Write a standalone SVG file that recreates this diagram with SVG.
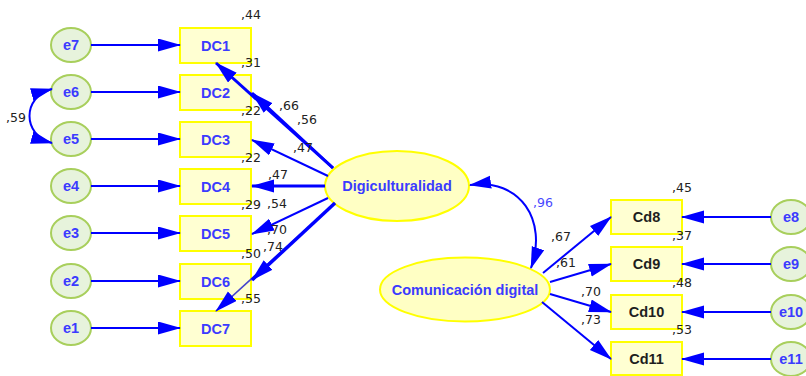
<svg xmlns="http://www.w3.org/2000/svg" width="806" height="376" viewBox="0 0 806 376">
<style>
.obs{fill:#ffffd2;stroke:#ffff00;stroke-width:2}
.lat{fill:#ffffc4;stroke:#ffff00;stroke-width:2}
.err{fill:#e7f3dc;stroke:#a8cf5c;stroke-width:2}
.lbl{font-family:"Liberation Sans",Arial,sans-serif;font-size:14.5px;font-weight:bold;fill:#3b3bff;text-anchor:middle}
.lblk{font-family:"Liberation Sans",Arial,sans-serif;font-size:14.5px;font-weight:bold;fill:#1e1e1e;text-anchor:middle}
.num{font-family:"DejaVu Sans",sans-serif;font-size:12.5px;fill:#222}
.numb{font-family:"DejaVu Sans",sans-serif;font-size:12.5px;fill:#4848ff}
.c{fill:none;stroke:#0000ff;stroke-width:2}
.t{stroke-width:3}
</style>
<defs>
<marker id="ah" markerUnits="userSpaceOnUse" markerWidth="24" markerHeight="14" refX="22" refY="6.5" orient="auto"><path d="M0,0 L23,6.5 L0,13 Z" fill="#0000ff"/></marker>
<marker id="cv" markerUnits="userSpaceOnUse" markerWidth="24" markerHeight="14" refX="21" refY="6.5" orient="auto-start-reverse"><path d="M0,0 L22,6.5 L0,13 Z" fill="#0000ff"/></marker>
</defs>
<g id="e7"><ellipse class="err" cx="71" cy="45" rx="20" ry="17"/><text class="lbl" x="71" y="50">e7</text></g>
<g id="e6"><ellipse class="err" cx="71" cy="92" rx="20" ry="17"/><text class="lbl" x="71" y="97">e6</text></g>
<g id="e5"><ellipse class="err" cx="71" cy="139" rx="20" ry="17"/><text class="lbl" x="71" y="144">e5</text></g>
<g id="e4"><ellipse class="err" cx="71" cy="186" rx="20" ry="17"/><text class="lbl" x="71" y="191">e4</text></g>
<g id="e3"><ellipse class="err" cx="71" cy="233" rx="20" ry="17"/><text class="lbl" x="71" y="238">e3</text></g>
<g id="e2"><ellipse class="err" cx="71" cy="281" rx="20" ry="17"/><text class="lbl" x="71" y="286">e2</text></g>
<g id="e1"><ellipse class="err" cx="71" cy="328" rx="20" ry="17"/><text class="lbl" x="71" y="333">e1</text></g>
<g id="DC1"><rect class="obs" x="180" y="28" width="71" height="35"/><text class="lbl" x="215.5" y="50.5">DC1</text></g>
<g id="DC2"><rect class="obs" x="180" y="75" width="71" height="35"/><text class="lbl" x="215.5" y="97.5">DC2</text></g>
<g id="DC3"><rect class="obs" x="180" y="122" width="71" height="35"/><text class="lbl" x="215.5" y="144.5">DC3</text></g>
<g id="DC4"><rect class="obs" x="180" y="169" width="71" height="35"/><text class="lbl" x="215.5" y="191.5">DC4</text></g>
<g id="DC5"><rect class="obs" x="180" y="216" width="71" height="35"/><text class="lbl" x="215.5" y="238.5">DC5</text></g>
<g id="DC6"><rect class="obs" x="180" y="264" width="71" height="35"/><text class="lbl" x="215.5" y="286.5">DC6</text></g>
<g id="DC7"><rect class="obs" x="180" y="311" width="71" height="35"/><text class="lbl" x="215.5" y="333.5">DC7</text></g>
<g id="Digiculturalidad"><ellipse class="lat" cx="397" cy="186" rx="72" ry="35"/><text class="lbl" x="397" y="191">Digiculturalidad</text></g>
<g id="Comunicacion"><ellipse class="lat" cx="465" cy="289.5" rx="85" ry="32"/><text class="lbl" x="465" y="294.5">Comunicación digital</text></g>
<g id="Cd8"><rect class="obs" x="611" y="200" width="71" height="34"/><text class="lblk" x="646.5" y="222">Cd8</text></g>
<g id="Cd9"><rect class="obs" x="611" y="247" width="71" height="34"/><text class="lblk" x="646.5" y="269">Cd9</text></g>
<g id="Cd10"><rect class="obs" x="611" y="295" width="71" height="34"/><text class="lblk" x="646.5" y="317">Cd10</text></g>
<g id="Cd11"><rect class="obs" x="611" y="342" width="71" height="33"/><text class="lblk" x="646.5" y="364">Cd11</text></g>
<g id="e8"><ellipse class="err" cx="791" cy="217" rx="20" ry="17"/><text class="lbl" x="791" y="222">e8</text></g>
<g id="e9"><ellipse class="err" cx="791" cy="264" rx="20" ry="17"/><text class="lbl" x="791" y="269">e9</text></g>
<g id="e10"><ellipse class="err" cx="791" cy="312" rx="20" ry="17"/><text class="lbl" x="791" y="317">e10</text></g>
<g id="e11"><ellipse class="err" cx="791" cy="359" rx="20" ry="17"/><text class="lbl" x="791" y="364">e11</text></g>
<g id="connectors">
<path class="c" d="M91,45 L180,45" marker-end="url(#ah)"/>
<path class="c" d="M91,92 L180,92" marker-end="url(#ah)"/>
<path class="c" d="M91,139 L180,139" marker-end="url(#ah)"/>
<path class="c" d="M91,186 L180,186" marker-end="url(#ah)"/>
<path class="c" d="M91,233 L180,233" marker-end="url(#ah)"/>
<path class="c" d="M91,281 L180,281" marker-end="url(#ah)"/>
<path class="c" d="M91,328 L180,328" marker-end="url(#ah)"/>
<path class="c t" d="M333,168 L216,63" marker-end="url(#ah)"/>
<path class="c t" d="M333,168 L252,93" marker-end="url(#ah)"/>
<path class="c" d="M328,176 L252,140" marker-end="url(#ah)"/>
<path class="c t" d="M325,186 L252,186" marker-end="url(#ah)"/>
<path class="c" d="M328,198 L252,234" marker-end="url(#ah)"/>
<path class="c" style="stroke:#4444cc;stroke-width:1.6" d="M335,203 L216,311" marker-end="url(#ah)"/>
<path class="c" style="stroke-width:3.5" d="M335,203 L252,280" marker-end="url(#ah)"/>
<path class="c" d="M543,273 L611,217" marker-end="url(#ah)"/>
<path class="c" d="M550,282 L611,264" marker-end="url(#ah)"/>
<path class="c" d="M550,294 L611,312" marker-end="url(#ah)"/>
<path class="c" d="M542,302 L611,359" marker-end="url(#ah)"/>
<path class="c" d="M771,217 L682,217" marker-end="url(#ah)"/>
<path class="c" d="M771,264 L682,264" marker-end="url(#ah)"/>
<path class="c" d="M771,312 L682,312" marker-end="url(#ah)"/>
<path class="c" d="M771,359 L682,359" marker-end="url(#ah)"/>
<path class="c" d="M52,89 C22,97 22,135 52,143" marker-start="url(#cv)" marker-end="url(#cv)"/>
<path class="c" d="M470,185 C520,178 548,220 531,268" marker-start="url(#cv)" marker-end="url(#cv)"/>
</g>
<g id="labels">
<text class="num" x="241" y="19">,44</text>
<text class="num" x="241" y="67">,31</text>
<text class="num" x="241" y="115">,22</text>
<text class="num" x="241" y="162">,22</text>
<text class="num" x="241" y="209">,29</text>
<text class="num" x="241" y="258">,50</text>
<text class="num" x="279" y="110">,66</text>
<text class="num" x="297" y="124">,56</text>
<text class="num" x="293" y="152">,47</text>
<text class="num" x="268" y="179">,47</text>
<text class="num" x="267" y="208">,54</text>
<text class="num" x="267" y="234">,70</text>
<text class="num" x="263" y="251">,74</text>
<text class="num" x="241" y="303">,55</text>
<text class="num" x="6" y="122">,59</text>
<text class="numb" x="533" y="207">,96</text>
<text class="num" x="551" y="241">,67</text>
<text class="num" x="556" y="267">,61</text>
<text class="num" x="581" y="296">,70</text>
<text class="num" x="581" y="324">,73</text>
<text class="num" x="672" y="192">,45</text>
<text class="num" x="672" y="240">,37</text>
<text class="num" x="672" y="287">,48</text>
<text class="num" x="672" y="334">,53</text>
</g>
</svg>
